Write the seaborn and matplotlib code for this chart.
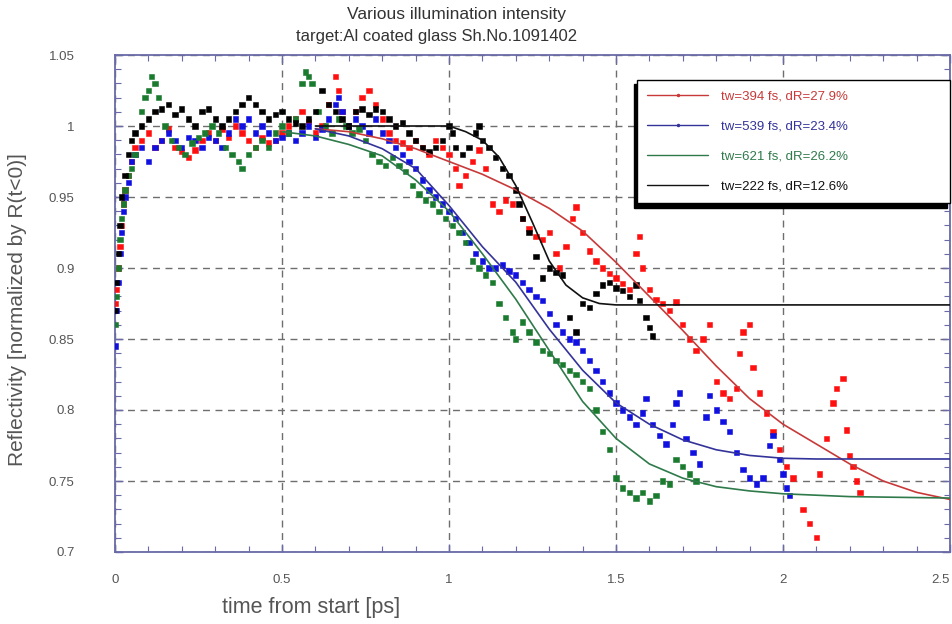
import numpy as np
import pandas as pd
import matplotlib
matplotlib.use("Agg")
import matplotlib.pyplot as plt
from matplotlib.lines import Line2D
from matplotlib.ticker import MultipleLocator, FixedLocator, FixedFormatter
import seaborn as sns

# ---------------- data ----------------
series_names = ["tw=394 fs, dR=27.9%", "tw=539 fs, dR=23.4%",
                "tw=621 fs, dR=26.2%", "tw=222 fs, dR=12.6%"]

red_x = [0.00,0.005,0.01,0.015,0.02,0.025,0.03,0.04,0.05,0.06,0.08,0.10,0.12,0.14,0.16,0.18,0.20,0.22,0.24,0.26,0.28,0.30,0.32,0.34,0.36,0.38,0.40,0.42,0.44,0.46,0.48,0.50,0.52,0.54,0.56,0.58,0.60,0.62,0.64,0.66,0.67,0.68,0.70,0.72,0.74,0.76,0.78,0.80,0.82,0.84,0.86,0.88,0.90,0.92,0.94,0.96,0.98,1.00,1.02,1.03,1.05,1.07,1.09,1.11,1.13,1.15,1.17,1.19,1.22,1.24,1.26,1.28,1.30,1.32,1.33,1.35,1.37,1.38,1.40,1.42,1.44,1.46,1.48,1.50,1.52,1.54,1.56,1.57,1.58,1.60,1.62,1.64,1.66,1.68,1.70,1.72,1.74,1.76,1.78,1.80,1.82,1.84,1.86,1.87,1.88,1.90,1.91,1.93,1.95,1.97,1.99,2.01,2.03,2.06,2.08,2.10,2.11,2.13,2.15,2.16,2.18,2.19,2.20,2.21,2.22,2.23]
red_y = [0.875,0.885,0.90,0.915,0.93,0.945,0.955,0.965,0.975,0.985,0.99,0.995,0.985,0.99,0.998,0.985,0.982,0.978,0.983,0.99,0.995,0.99,0.998,0.992,1.0,0.995,0.99,0.985,0.992,0.988,0.99,0.995,1.0,1.005,1.01,1.003,0.995,1.0,1.015,1.035,1.025,1.01,1.0,1.01,1.02,1.025,1.015,1.005,0.995,0.99,0.988,0.985,0.99,0.985,0.98,0.99,0.985,0.98,0.97,0.958,0.965,0.975,0.983,0.97,0.945,0.94,0.948,0.945,0.935,0.928,0.922,0.92,0.925,0.91,0.90,0.915,0.935,0.943,0.925,0.912,0.905,0.90,0.896,0.893,0.889,0.885,0.91,0.922,0.90,0.885,0.878,0.875,0.87,0.876,0.86,0.85,0.842,0.85,0.86,0.82,0.812,0.808,0.815,0.84,0.855,0.86,0.83,0.812,0.798,0.785,0.772,0.76,0.752,0.73,0.72,0.71,0.755,0.78,0.805,0.815,0.822,0.786,0.768,0.76,0.75,0.742]

blue_x = [0.00,0.005,0.01,0.015,0.02,0.025,0.03,0.04,0.05,0.06,0.08,0.10,0.12,0.14,0.16,0.18,0.20,0.22,0.24,0.26,0.28,0.30,0.32,0.34,0.36,0.38,0.40,0.42,0.44,0.46,0.48,0.50,0.52,0.54,0.56,0.58,0.60,0.62,0.64,0.66,0.67,0.68,0.70,0.72,0.74,0.76,0.78,0.80,0.82,0.84,0.86,0.88,0.90,0.92,0.94,0.96,0.98,1.00,1.02,1.04,1.06,1.08,1.10,1.12,1.14,1.16,1.18,1.20,1.22,1.24,1.26,1.28,1.30,1.32,1.34,1.36,1.38,1.40,1.42,1.44,1.46,1.48,1.50,1.52,1.54,1.56,1.58,1.59,1.61,1.63,1.65,1.67,1.68,1.69,1.71,1.73,1.75,1.77,1.78,1.80,1.82,1.84,1.86,1.88,1.90,1.92,1.94,1.96,1.97,1.99,2.00,2.01,2.02]
blue_y = [0.845,0.87,0.89,0.91,0.925,0.94,0.95,0.96,0.975,0.98,0.985,0.975,0.985,0.99,0.995,0.99,0.985,0.992,0.99,0.985,0.992,0.99,0.985,0.995,1.005,1.0,1.005,0.995,1.0,0.995,0.99,0.992,0.995,0.99,0.995,1.0,0.992,0.998,1.005,1.015,1.02,1.01,1.0,1.005,1.0,0.995,1.005,0.995,0.99,0.985,0.98,0.975,0.97,0.962,0.955,0.95,0.945,0.94,0.935,0.925,0.918,0.91,0.905,0.90,0.90,0.902,0.898,0.895,0.89,0.885,0.88,0.877,0.868,0.86,0.855,0.85,0.848,0.842,0.835,0.828,0.82,0.812,0.805,0.80,0.795,0.79,0.798,0.808,0.79,0.782,0.776,0.79,0.805,0.812,0.78,0.77,0.762,0.795,0.81,0.80,0.792,0.785,0.77,0.758,0.752,0.748,0.752,0.775,0.782,0.765,0.755,0.745,0.74]

green_x = [0.00,0.005,0.01,0.015,0.02,0.025,0.03,0.04,0.05,0.06,0.08,0.09,0.10,0.11,0.12,0.13,0.15,0.17,0.19,0.21,0.23,0.25,0.27,0.29,0.31,0.33,0.35,0.37,0.38,0.40,0.42,0.44,0.46,0.48,0.50,0.52,0.54,0.56,0.57,0.58,0.59,0.61,0.63,0.65,0.67,0.69,0.71,0.73,0.75,0.77,0.79,0.81,0.83,0.85,0.87,0.89,0.91,0.93,0.95,0.97,0.99,1.01,1.03,1.05,1.07,1.09,1.11,1.13,1.15,1.17,1.19,1.20,1.22,1.24,1.26,1.28,1.30,1.32,1.34,1.36,1.38,1.40,1.42,1.44,1.46,1.48,1.50,1.52,1.54,1.56,1.58,1.60,1.62,1.64,1.66,1.68,1.70,1.72,1.74]
green_y = [0.86,0.88,0.90,0.92,0.935,0.945,0.955,0.965,0.97,0.98,1.01,1.02,1.025,1.035,1.03,1.02,1.0,0.99,0.985,0.98,0.988,0.992,0.995,1.0,0.995,0.985,0.98,0.975,0.97,0.98,0.985,0.99,0.985,0.995,1.0,0.995,1.005,1.03,1.038,1.035,1.03,1.01,1.0,0.995,1.005,1.0,0.995,0.998,0.99,0.98,0.975,0.972,0.978,0.972,0.968,0.958,0.952,0.948,0.945,0.94,0.935,0.93,0.925,0.918,0.905,0.90,0.895,0.89,0.875,0.865,0.855,0.85,0.862,0.855,0.848,0.842,0.84,0.835,0.832,0.828,0.825,0.82,0.815,0.80,0.785,0.772,0.752,0.745,0.742,0.738,0.742,0.736,0.74,0.75,0.748,0.765,0.76,0.755,0.75]

black_x = [0.00,0.005,0.01,0.015,0.02,0.03,0.04,0.05,0.06,0.08,0.10,0.12,0.14,0.16,0.18,0.20,0.22,0.24,0.26,0.28,0.30,0.32,0.34,0.36,0.38,0.40,0.42,0.44,0.46,0.48,0.50,0.52,0.54,0.56,0.58,0.60,0.62,0.64,0.66,0.68,0.70,0.72,0.74,0.76,0.78,0.80,0.82,0.84,0.86,0.88,0.90,0.92,0.94,0.96,0.98,1.00,1.01,1.02,1.04,1.06,1.08,1.09,1.10,1.12,1.14,1.16,1.18,1.20,1.21,1.22,1.24,1.26,1.28,1.30,1.32,1.34,1.36,1.38,1.40,1.42,1.44,1.46,1.48,1.50,1.52,1.54,1.56,1.57,1.59,1.60,1.61]
black_y = [0.87,0.89,0.91,0.93,0.95,0.965,0.98,0.99,0.995,1.0,1.005,1.01,1.012,1.015,1.008,1.012,1.005,1.0,1.01,1.012,1.005,1.0,1.005,1.01,1.015,1.02,1.015,1.01,1.005,1.008,1.01,1.005,1.002,1.0,1.005,1.01,1.025,1.015,1.01,1.005,1.0,1.01,1.012,1.008,1.012,1.01,1.005,1.0,1.002,0.995,0.99,0.985,0.982,0.985,0.99,1.0,0.995,0.985,0.98,0.985,0.995,1.0,0.99,0.985,0.978,0.97,0.965,0.955,0.945,0.935,0.925,0.908,0.893,0.90,0.897,0.895,0.865,0.855,0.875,0.872,0.882,0.888,0.89,0.886,0.884,0.88,0.888,0.877,0.865,0.858,0.852]

# fitted curves
fit_red_x = [0.6,0.7,0.8,0.9,1.0,1.1,1.2,1.3,1.4,1.5,1.6,1.7,1.8,1.9,2.0,2.1,2.2,2.3,2.4,2.5]
fit_red_y = [0.998,0.996,0.991,0.984,0.975,0.966,0.955,0.942,0.926,0.904,0.880,0.856,0.831,0.808,0.790,0.776,0.762,0.750,0.742,0.737]
fit_blue_x = [0.6,0.7,0.8,0.9,1.0,1.1,1.2,1.3,1.4,1.5,1.6,1.7,1.8,1.9,2.0,2.1,2.2,2.5]
fit_blue_y = [0.998,0.993,0.984,0.970,0.944,0.915,0.890,0.857,0.828,0.805,0.790,0.779,0.772,0.768,0.766,0.7655,0.7655,0.7655]
fit_green_x = [0.5,0.6,0.7,0.8,0.9,1.0,1.1,1.2,1.3,1.4,1.5,1.6,1.7,1.8,1.9,2.0,2.2,2.5]
fit_green_y = [0.996,0.993,0.987,0.979,0.962,0.940,0.910,0.878,0.842,0.806,0.780,0.762,0.752,0.746,0.743,0.741,0.739,0.738]
fit_black_x = [0.6,1.0,1.05,1.1,1.15,1.2,1.25,1.3,1.35,1.4,1.45,1.5,2.5]
fit_black_y = [1.0,1.0,0.996,0.990,0.978,0.958,0.932,0.905,0.888,0.879,0.875,0.874,0.874]

x_ticks = [0, 0.5, 1, 1.5, 2, 2.5]
x_tick_labels = ["0", "0.5", "1", "1.5", "2", "2.5"]
y_ticks = [0.7, 0.75, 0.8, 0.85, 0.9, 0.95, 1.0, 1.05]
y_tick_labels = ["0.7", "0.75", "0.8", "0.85", "0.9", "0.95", "1", "1.05"]

title_lines = ["Various illumination intensity", "target:Al coated glass Sh.No.1091402"]
x_label = "time from start [ps]"
y_label = "Reflectivity [normalized by R(t<0)]"

# ---------------- styling ----------------
data_colors = ["#ff1010", "#1010e0", "#1a7a2e", "#000000"]
fit_colors = ["#c83a3a", "#33339a", "#2f7a4a", "#111111"]
spine_color = "#6a6aa8"
text_color = "#555555"

sns.set_style("ticks")
plt.rcParams["font.family"] = ["Liberation Sans", "DejaVu Sans"]

fig = plt.figure(figsize=(9.53, 6.24), dpi=100)
ax = fig.add_axes([115/953, 1-552/624, (950-115)/953, (552-55)/624])

pts = pd.concat([
    pd.DataFrame({"t": red_x, "R": red_y, "s": series_names[0]}),
    pd.DataFrame({"t": blue_x, "R": blue_y, "s": series_names[1]}),
    pd.DataFrame({"t": green_x, "R": green_y, "s": series_names[2]}),
    pd.DataFrame({"t": black_x, "R": black_y, "s": series_names[3]}),
], ignore_index=True)
fits = pd.concat([
    pd.DataFrame({"t": fit_red_x, "R": fit_red_y, "s": series_names[0]}),
    pd.DataFrame({"t": fit_blue_x, "R": fit_blue_y, "s": series_names[1]}),
    pd.DataFrame({"t": fit_green_x, "R": fit_green_y, "s": series_names[2]}),
    pd.DataFrame({"t": fit_black_x, "R": fit_black_y, "s": series_names[3]}),
], ignore_index=True)

# grid
ax.set_axisbelow(True)
ax.grid(True, which="major", linestyle=(0, (5, 4)), color="#6e6e6e", linewidth=1.0)

sns.scatterplot(data=pts, x="t", y="R", hue="s", hue_order=series_names,
                palette=dict(zip(series_names, data_colors)), marker="s", s=15,
                linewidth=0.4, edgecolor=None, legend=False, ax=ax, zorder=3)
sns.lineplot(data=fits, x="t", y="R", hue="s", hue_order=series_names,
             palette=dict(zip(series_names, fit_colors)), estimator=None,
             sort=True, linewidth=1.2, legend=False, ax=ax, zorder=4)

ax.set_xlim(0, 2.5)
ax.set_ylim(0.7, 1.05)
ax.xaxis.set_major_locator(FixedLocator(x_ticks))
ax.xaxis.set_major_formatter(FixedFormatter(x_tick_labels))
ax.yaxis.set_major_locator(FixedLocator(y_ticks))
ax.yaxis.set_major_formatter(FixedFormatter(y_tick_labels))
ax.xaxis.set_minor_locator(MultipleLocator(0.1))
ax.yaxis.set_minor_locator(MultipleLocator(0.01))
ax.tick_params(which="both", direction="in", top=True, right=True, color=spine_color)
ax.tick_params(which="major", length=6, width=1.0)
ax.tick_params(which="minor", length=4, width=0.8)
ax.tick_params(axis="x", which="major", pad=16, labelsize=9.5, labelcolor=text_color)
ax.tick_params(axis="y", which="major", pad=29, labelsize=9.5, labelcolor=text_color)
for sp in ax.spines.values():
    sp.set_visible(True)
    sp.set_color(spine_color)
    sp.set_linewidth(1.3)
xt = ax.get_xticklabels()
xt[-1].set_horizontalalignment("right")

ax.set_xlabel("")
ax.set_ylabel("")
fig.text(311/953, 1-607/624, x_label, ha="center", va="center", fontsize=15.5, color=text_color)
fig.text(18/953, 1-310/624, y_label, ha="center", va="center", rotation=90, fontsize=15, color=text_color)
fig.text(457/953, 1-15/624, title_lines[0], ha="center", va="center", fontsize=12.5, color="#333333")
fig.text(437/953, 1-36/624, title_lines[1], ha="center", va="center", fontsize=12, color="#333333")

# legend
handles = []
for i, name in enumerate(series_names):
    mk = "." if i < 2 else None
    handles.append(Line2D([0], [0], color=fit_colors[i], lw=1.0, marker=mk, markersize=3))
leg = ax.legend(handles, series_names, loc="upper left",
                bbox_to_anchor=(0.625, 0.706, 0.375, 0.244), mode="expand",
                fontsize=9.5, handlelength=4.6, handletextpad=1.0, labelspacing=1.35,
                borderpad=0.8, borderaxespad=0, frameon=True, fancybox=False,
                shadow={"ox": -2, "oy": -3, "color": "black", "alpha": 1.0})
leg.get_frame().set_edgecolor("black")
leg.get_frame().set_linewidth(1.0)
leg.get_frame().set_alpha(1.0)
for txt, c in zip(leg.get_texts(), fit_colors):
    txt.set_color(c)
leg.set_zorder(10)

fig.savefig("out.png", dpi=100)
